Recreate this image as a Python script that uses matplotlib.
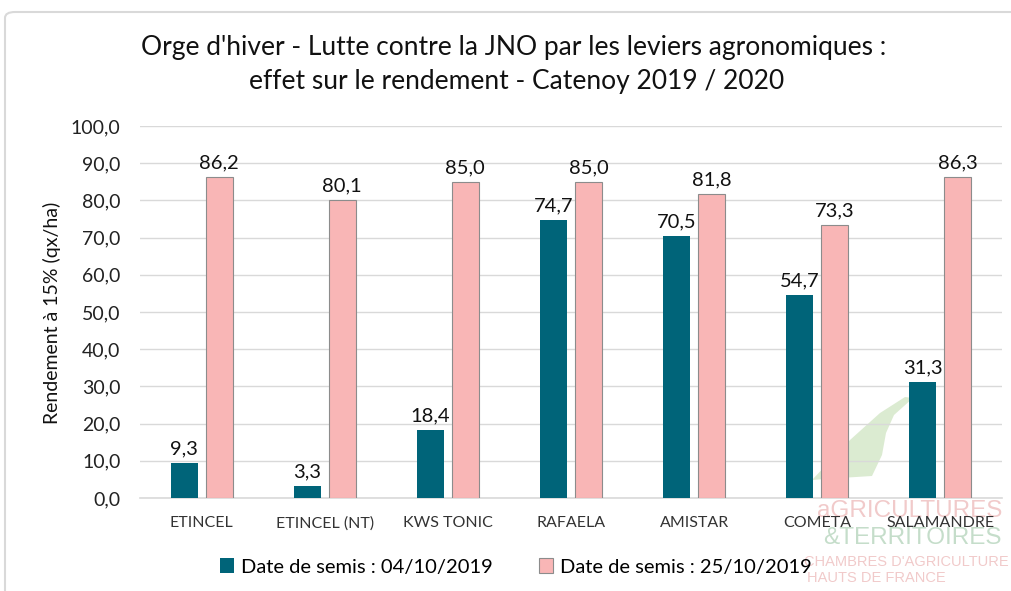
import matplotlib.pyplot as plt
import numpy as np
from matplotlib.patches import FancyBboxPatch, Polygon

plt.rcParams['font.family'] = ['Lato', 'DejaVu Sans']

varietes = ["ETINCEL", "ETINCEL (NT)", "KWS TONIC", "RAFAELA", "AMISTAR", "COMETA", "SALAMANDRE"]
semis_0410 = [9.3, 3.3, 18.4, 74.7, 70.5, 54.7, 31.3]
semis_2510 = [86.2, 80.1, 85.0, 85.0, 81.8, 73.3, 86.3]
labels_series = ["Date de semis : 04/10/2019", "Date de semis : 25/10/2019"]
yticks = np.arange(0, 101, 10)

teal = "#006479"
pink = "#f9b6b6"
W, H = 1011, 591


def fx(px):
    return px / W


def fy(py):
    return 1 - py / H


fig = plt.figure(figsize=(10.11, 5.91), dpi=100)
# cadre du graphique
fig.patches.append(FancyBboxPatch((fx(5), -0.05), 1.1, fy(12) + 0.05,
                                  boxstyle="round,pad=0,rounding_size=0.01",
                                  transform=fig.transFigure, fill=False,
                                  edgecolor="#d9d9d9", linewidth=1.5))

# filigrane du logo (forme verte)
swoosh = [(812, 480), (850, 440), (880, 413), (905, 397), (913, 398),
          (894, 415), (886, 433), (882, 455), (872, 476), (840, 478)]
fig.patches.append(Polygon([(fx(a), fy(b)) for a, b in swoosh], closed=True,
                           transform=fig.transFigure, facecolor="#d3e6c6",
                           edgecolor="none", alpha=0.8, zorder=-1))

ax = fig.add_axes([fx(140), fy(498), fx(1002 - 140), (498 - 126) / H])
ax.patch.set_alpha(0)

x = np.arange(len(varietes))
w = 0.22
off = 0.142
b1 = ax.bar(x - off, semis_0410, w, color=teal, label=labels_series[0], zorder=3)
b2 = ax.bar(x + off, semis_2510, w, color=pink, edgecolor="#8c8c8c", linewidth=0.8,
            label=labels_series[1], zorder=3)

for bars, vals in ((b1, semis_0410), (b2, semis_2510)):
    for r, v in zip(bars, vals):
        ax.annotate(f"{v:.1f}".replace(".", ","), (r.get_x() + r.get_width() / 2, v),
                    xytext=(0, 4), textcoords="offset points", ha="center", va="bottom",
                    fontsize=14.5, color="#111111", zorder=4)

ax.set_ylim(0, 100)
ax.set_xlim(-0.5, len(varietes) - 0.5)
ax.set_yticks(yticks)
ax.set_yticklabels([f"{t:.1f}".replace(".", ",") for t in yticks], fontsize=14, color="#222222")
ax.set_xticks(x)
ax.set_xticklabels(varietes, fontsize=11.5, color="#333333")
ax.tick_params(length=0)
ax.tick_params(axis="y", pad=14)
ax.tick_params(axis="x", pad=13)
ax.grid(axis="y", color="#d9d9d9", linewidth=1, zorder=0)
for s in ["top", "right", "left"]:
    ax.spines[s].set_visible(False)
ax.spines["bottom"].set_color("#d9d9d9")
ax.spines["bottom"].set_linewidth(1.2)

fig.text(fx(52), fy(313), "Rendement à 15% (qx/ha)", rotation=90,
         ha="center", va="center", fontsize=14, color="#111111")

fig.text(fx(514), fy(47), "Orge d'hiver - Lutte contre la JNO par les leviers agronomiques :",
         ha="center", va="center", fontsize=19, color="#111111")
fig.text(fx(517), fy(82), "effet sur le rendement - Catenoy 2019 / 2020",
         ha="center", va="center", fontsize=19, color="#111111")

fig.legend(handles=[b1, b2], loc="center", bbox_to_anchor=(fx(516), fy(567)),
           ncol=2, frameon=False, fontsize=14.5, handlelength=0.7, handleheight=0.7,
           handletextpad=0.35, columnspacing=2.3)

# logo en filigrane (texte)
logo = dict(ha="center", va="center", family="Liberation Sans", zorder=-1)
fig.text(fx(910), fy(511), "aGRICULTURES", fontsize=17.5, color="#e08a8a", alpha=0.45, **logo)
fig.text(fx(912), fy(538), "&TERRITOIRES", fontsize=17.5, color="#7fb58a", alpha=0.45, **logo)
fig.text(fx(906), fy(562), "CHAMBRES D'AGRICULTURE", fontsize=10.5, color="#e08a8a", alpha=0.45, **logo)
fig.text(fx(876), fy(578), "HAUTS DE FRANCE", fontsize=10.5, color="#e08a8a", alpha=0.45, **logo)

fig.savefig("out.png", dpi=100)
